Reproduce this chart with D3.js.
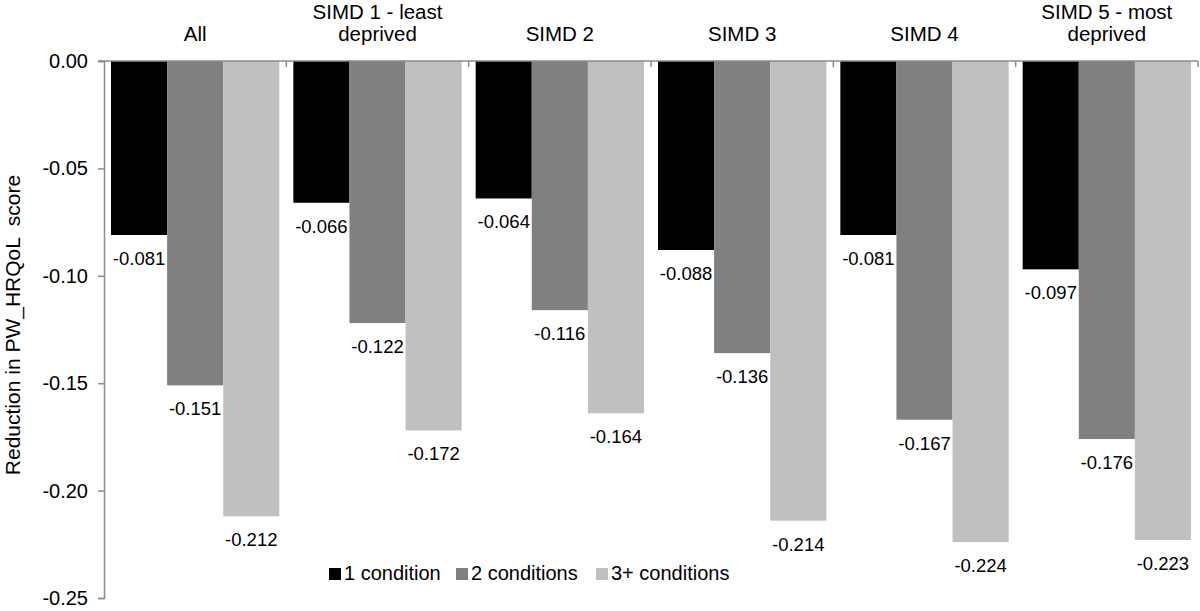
<!DOCTYPE html>
<html><head><meta charset="utf-8">
<script src="https://cdn.jsdelivr.net/npm/d3@7"></script>
<style>body{margin:0;background:#fff}svg{display:block;font-family:"Liberation Sans",Arial,Helvetica,sans-serif}</style>
</head><body><svg id="c" width="1200" height="611"></svg>
<script>
const categories = [["All"],["SIMD 1 - least","deprived"],["SIMD 2"],["SIMD 3"],["SIMD 4"],["SIMD 5 - most","deprived"]];
const seriesNames = ["1 condition","2 conditions","3+ conditions"];
const oneCondition = [-0.081,-0.066,-0.064,-0.088,-0.081,-0.097];
const twoConditions = [-0.151,-0.122,-0.116,-0.136,-0.167,-0.176];
const threePlusConditions = [-0.212,-0.172,-0.164,-0.214,-0.224,-0.223];
const yTicks = [0,-0.05,-0.10,-0.15,-0.20,-0.25];
const colors = ["#000000","#808080","#c0c0c0"];

(function(){
const series = [oneCondition, twoConditions, threePlusConditions];
const svg = d3.select("#c");
const mLeft = 104, mRight = 1198, mTop = 61, mBottom = 598;
const y = d3.scaleLinear().domain([0,-0.25]).range([mTop,mBottom]);
const x0 = d3.scaleBand().domain(d3.range(categories.length)).range([mLeft,mRight]).paddingInner(0).paddingOuter(0);
const x1 = d3.scaleBand().domain(d3.range(3)).range([7, x0.bandwidth()-7]).padding(0);

const g = svg.append("g");
categories.forEach((c,i)=>{
  series.forEach((s,j)=>{
    const v = s[i];
    g.append("rect").attr("x", x0(i)+x1(j)).attr("y", y(0)).attr("width", x1.bandwidth())
      .attr("height", y(v)-y(0)).attr("fill", colors[j]);
    g.append("text").attr("x", x0(i)+x1(j)+x1.bandwidth()/2).attr("y", y(v)+30)
      .attr("text-anchor","middle").attr("font-size",18.5).attr("fill","#000").text(v.toFixed(3));
  });
});

const yAxis = d3.axisLeft(y).tickValues(yTicks).tickSize(6).tickPadding(10);
const ya = svg.append("g").attr("transform",`translate(${mLeft},0)`).call(yAxis);
ya.select(".domain").attr("stroke","#8c8c8c").attr("stroke-width",1.5);
ya.selectAll(".tick line").attr("stroke","#8c8c8c").attr("stroke-width",1.5);
ya.selectAll(".tick text").attr("font-size",20).attr("fill","#000").attr("font-family","Liberation Sans, Arial, sans-serif")
  .text(d=>d===0?"0.00":"-"+Math.abs(d).toFixed(2));

const xa = svg.append("g").attr("transform",`translate(0,${y(0)})`)
  .call(d3.axisBottom(x0).tickValues([]).tickSize(0));
xa.select(".domain").attr("stroke","#8c8c8c").attr("stroke-width",1.5).attr("d",`M98,0H${mRight}`);
d3.range(1,categories.length+1).forEach(i=>{
  const xx = mLeft + i*x0.step();
  svg.append("line").attr("x1",xx).attr("x2",xx).attr("y1",y(0)).attr("y2",y(0)+6).attr("stroke","#8c8c8c").attr("stroke-width",1.5);
});

categories.forEach((c,i)=>{
  const cx = x0(i)+x0.bandwidth()/2;
  const t = svg.append("text").attr("text-anchor","middle").attr("font-size",20.5).attr("fill","#000");
  const y0 = c.length===1 ? 41 : 19;
  c.forEach((line,k)=>t.append("tspan").attr("x",cx).attr("y",y0+k*22).text(line));
});

svg.append("text").attr("transform","translate(20,325) rotate(-90)").attr("text-anchor","middle")
  .attr("font-size",21).attr("fill","#000").style("white-space","pre").text("Reduction in PW_HRQoL  score");

const legX = [329, 456, 596];
seriesNames.forEach((n,j)=>{
  svg.append("rect").attr("x",legX[j]).attr("y",568).attr("width",12).attr("height",12).attr("fill",colors[j]);
  svg.append("text").attr("x",legX[j]+15).attr("y",580).attr("font-size",20).attr("fill","#000").text(n);
});
})();
</script></body></html>
